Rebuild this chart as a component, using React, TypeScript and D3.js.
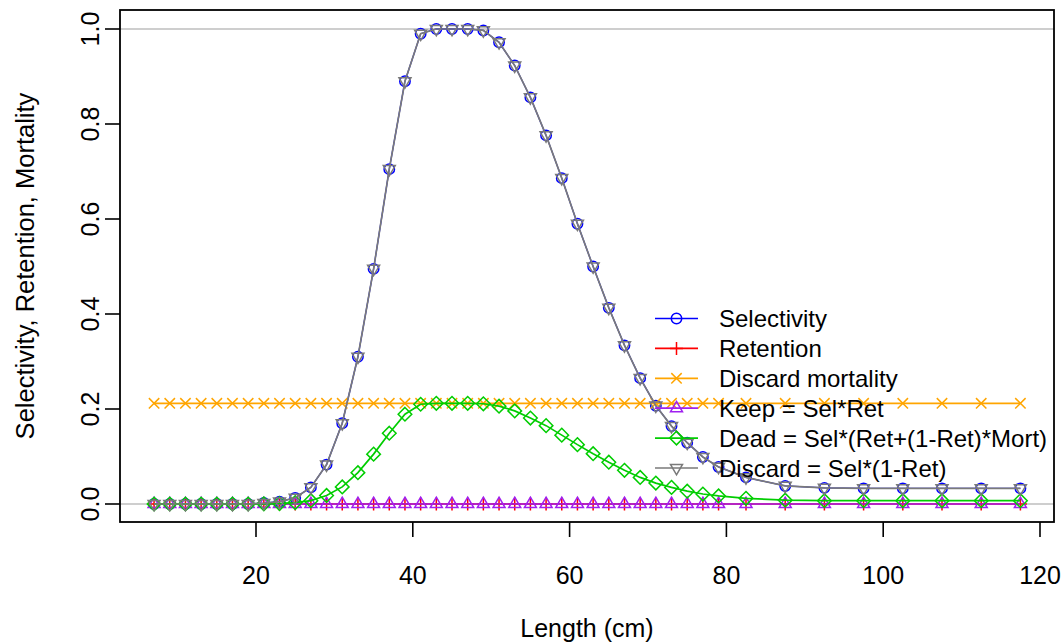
import React from 'react';
import * as d3 from 'd3';

const lengths = [7, 9, 11, 13, 15, 17, 19, 21, 23, 25, 27, 29, 31, 33, 35, 37, 39, 41, 43, 45, 47, 49, 51, 53, 55, 57, 59, 61, 63, 65, 67, 69, 71, 73, 75, 77, 79, 82.5, 87.5, 92.5, 97.5, 102.5, 107.5, 112.5, 117.5];

const selectivity = [0, 0, 0, 0, 0, 0, 0, 0.002, 0.005, 0.013, 0.035, 0.083, 0.17, 0.31, 0.495, 0.705, 0.89, 0.99, 1, 1, 1, 0.997, 0.972, 0.923, 0.856, 0.776, 0.686, 0.59, 0.5, 0.413, 0.334, 0.265, 0.207, 0.164, 0.129, 0.099, 0.078, 0.056, 0.038, 0.034, 0.033, 0.033, 0.033, 0.033, 0.033];

const retention = [0, 0, 0, 0, 0, 0, 0, 0, 0, 0, 0, 0, 0, 0, 0, 0, 0, 0, 0, 0, 0, 0, 0, 0, 0, 0, 0, 0, 0, 0, 0, 0, 0, 0, 0, 0, 0, 0, 0, 0, 0, 0, 0, 0, 0];

const discardMortality = [0.212, 0.212, 0.212, 0.212, 0.212, 0.212, 0.212, 0.212, 0.212, 0.212, 0.212, 0.212, 0.212, 0.212, 0.212, 0.212, 0.212, 0.212, 0.212, 0.212, 0.212, 0.212, 0.212, 0.212, 0.212, 0.212, 0.212, 0.212, 0.212, 0.212, 0.212, 0.212, 0.212, 0.212, 0.212, 0.212, 0.212, 0.212, 0.212, 0.212, 0.212, 0.212, 0.212, 0.212, 0.212];

const keep = [0, 0, 0, 0, 0, 0, 0, 0, 0, 0, 0, 0, 0, 0, 0, 0, 0, 0, 0, 0, 0, 0, 0, 0, 0, 0, 0, 0, 0, 0, 0, 0, 0, 0, 0, 0, 0, 0, 0, 0, 0, 0, 0, 0, 0];

const dead = [0, 0, 0, 0, 0, 0, 0, 0.0004, 0.001, 0.003, 0.007, 0.018, 0.036, 0.066, 0.105, 0.149, 0.189, 0.21, 0.212, 0.212, 0.212, 0.211, 0.206, 0.196, 0.181, 0.165, 0.145, 0.125, 0.106, 0.088, 0.071, 0.056, 0.044, 0.035, 0.027, 0.021, 0.017, 0.012, 0.008, 0.007, 0.007, 0.007, 0.007, 0.007, 0.007];

const discard = [0, 0, 0, 0, 0, 0, 0, 0.002, 0.005, 0.013, 0.035, 0.083, 0.17, 0.31, 0.495, 0.705, 0.89, 0.99, 1, 1, 1, 0.997, 0.972, 0.923, 0.856, 0.776, 0.686, 0.59, 0.5, 0.413, 0.334, 0.265, 0.207, 0.164, 0.129, 0.099, 0.078, 0.056, 0.038, 0.034, 0.033, 0.033, 0.033, 0.033, 0.033];

const xTicks = [20, 40, 60, 80, 100, 120];
const yTicks = [0, 0.2, 0.4, 0.6, 0.8, 1.0];
const xTitle = 'Length (cm)';
const yTitle = 'Selectivity, Retention, Mortality';

const seriesNames = ['Selectivity', 'Retention', 'Discard mortality', 'Keep = Sel*Ret', 'Dead = Sel*(Ret+(1-Ret)*Mort)', 'Discard = Sel*(1-Ret)'];
const seriesValues = [selectivity, retention, discardMortality, keep, dead, discard];
const seriesColors = ['#0000FF', '#FF0000', '#FFA500', '#A020F0', '#00CD00', '#7A7A7A'];
const seriesShapes = ['circle', 'plus', 'cross', 'triUp', 'diamond', 'triDown'];

const W = 1061;
const H = 643;
const FONT = '"Liberation Sans", Arial, Helvetica, sans-serif';

function markerPath(shape: string): string {
  switch (shape) {
    case 'circle':
      return 'M5.2,0A5.2,5.2 0 1,1 -5.2,0A5.2,5.2 0 1,1 5.2,0Z';
    case 'plus':
      return 'M-6.5,0H6.5M0,-6.5V6.5';
    case 'cross':
      return 'M-5.2,-5.2L5.2,5.2M-5.2,5.2L5.2,-5.2';
    case 'triUp':
      return 'M0,-6.8L6,3.6L-6,3.6Z';
    case 'triDown':
      return 'M0,6.8L6,-3.6L-6,-3.6Z';
    case 'diamond':
      return 'M0,-6.8L6.8,0L0,6.8L-6.8,0Z';
    default:
      return '';
  }
}

export default function App() {
  const x = d3.scaleLinear().domain([0, 120]).range([99.2, 1040]);
  const y = d3.scaleLinear().domain([0, 1]).range([504, 29]);
  const box = { left: 120, right: 1054, top: 10, bottom: 522 };

  const line = (vals: number[]) =>
    d3
      .line<number>()
      .x((_, i) => x(lengths[i]))
      .y((d) => y(d))(vals) || '';

  const legX0 = 655;
  const legX1 = 698;
  const legText = 719;
  const legY0 = 318.5;
  const legStep = 29.9;

  return (
    <svg
      width={W}
      height={H}
      style={{ position: 'absolute', left: 0, top: 0, background: '#fff' }}
      fontFamily={FONT}
    >
      <rect x={0} y={0} width={W} height={H} fill="#fff" />
      {/* reference lines */}
      <line x1={box.left} x2={box.right} y1={y(0)} y2={y(0)} stroke="#BEBEBE" strokeWidth={1.5} />
      <line x1={box.left} x2={box.right} y1={y(1)} y2={y(1)} stroke="#BEBEBE" strokeWidth={1.5} />

      {/* series */}
      {seriesValues.map((vals, si) => (
        <g key={si}>
          <path d={line(vals)} fill="none" stroke={seriesColors[si]} strokeWidth={si === 0 ? 1.3 : 1.7} />
          {vals.map((v, i) => (
            <path
              key={i}
              d={markerPath(seriesShapes[si])}
              transform={`translate(${x(lengths[i])},${y(v)})`}
              fill="none"
              stroke={seriesColors[si]}
              strokeWidth={1.5}
            />
          ))}
        </g>
      ))}

      {/* box */}
      <rect
        x={box.left}
        y={box.top}
        width={box.right - box.left}
        height={box.bottom - box.top}
        fill="none"
        stroke="#000"
        strokeWidth={1.8}
      />

      {/* x axis */}
      {xTicks.map((t) => (
        <g key={t}>
          <line x1={x(t)} x2={x(t)} y1={box.bottom} y2={box.bottom + 15} stroke="#000" strokeWidth={1.6} />
          <text x={x(t)} y={584} textAnchor="middle" fontSize={25} fill="#000">
            {t}
          </text>
        </g>
      ))}
      <text x={(box.left + box.right) / 2} y={637} textAnchor="middle" fontSize={25} fill="#000">
        {xTitle}
      </text>

      {/* y axis */}
      {yTicks.map((t) => (
        <g key={t}>
          <line x1={box.left - 15} x2={box.left} y1={y(t)} y2={y(t)} stroke="#000" strokeWidth={1.6} />
          <text
            transform={`translate(99,${y(t)}) rotate(-90)`}
            textAnchor="middle"
            fontSize={25}
            fill="#000"
          >
            {t.toFixed(1)}
          </text>
        </g>
      ))}
      <text
        transform={`translate(34,${(box.top + box.bottom) / 2}) rotate(-90)`}
        textAnchor="middle"
        fontSize={25.5}
        fill="#000"
      >
        {yTitle}
      </text>

      {/* legend */}
      {seriesNames.map((name, si) => {
        const cy = legY0 + si * legStep;
        return (
          <g key={name}>
            <line x1={legX0} x2={legX1} y1={cy} y2={cy} stroke={seriesColors[si]} strokeWidth={1.7} />
            <path
              d={markerPath(seriesShapes[si])}
              transform={`translate(${(legX0 + legX1) / 2},${cy})`}
              fill="none"
              stroke={seriesColors[si]}
              strokeWidth={1.5}
            />
            <text x={legText} y={cy + 8.6} fontSize={24} fill="#000">
              {name}
            </text>
          </g>
        );
      })}
    </svg>
  );
}
